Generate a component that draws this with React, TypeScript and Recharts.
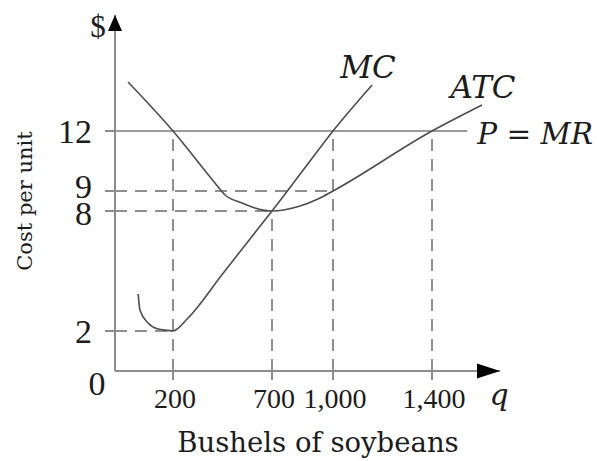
import React from 'react';
import { LineChart, Line, XAxis, YAxis, ReferenceLine, ReferenceDot } from 'recharts';

// ---------- data ----------
const qTicks = [200, 700, 1000, 1400];
const costTicks = [2, 8, 9, 12];
const price = 12;
const qMax = 1680;
const costMax = 17.8;
const priceLineEnd = 1545;

const mcCurve = [
  { q: 80, c: 3.85 },
  { q: 86, c: 3.05 },
  { q: 114, c: 2.4 },
  { q: 148, c: 2.1 },
  { q: 183, c: 2.03 },
  { q: 200, c: 2 },
  { q: 276, c: 2.65 },
  { q: 450, c: 4.85 },
  { q: 580, c: 6.49 },
  { q: 700, c: 8 },
  { q: 850, c: 10 },
  { q: 1000, c: 12 },
  { q: 1158, c: 14.3 },
];

const atcCurve = [
  { q: 45, c: 14.45 },
  { q: 200, c: 12 },
  { q: 412, c: 9.4 },
  { q: 463, c: 8.8 },
  { q: 549, c: 8.4 },
  { q: 614, c: 8.15 },
  { q: 664, c: 8.03 },
  { q: 700, c: 8 },
  { q: 838, c: 8.25 },
  { q: 926, c: 8.6 },
  { q: 1000, c: 9 },
  { q: 1400, c: 12 },
  { q: 1606, c: 13.3 },
];

// vertical drop lines (q, up to cost) and horizontal level lines (cost, out to q)
const dropLines = [
  { q: 200, c: 12 },
  { q: 700, c: 8 },
  { q: 1000, c: 12 },
  { q: 1400, c: 12 },
];
const levelLines = [
  { q: 200, c: 2 },
  { q: 700, c: 8 },
  { q: 1000, c: 9 },
];

// ---------- schematic (piecewise-linear) quantity scale ----------
const SCALE_Q = [0, 200, 700, 1000, 1400, qMax];
const SCALE_T = [0, 58, 157, 218, 317, 385].map((v) => v / 385);

function piecewiseScale(): any {
  let dom: number[] = [0, qMax];
  let rng: number[] = [0, 1];
  const toT = (v: number) => {
    const n = SCALE_Q.length;
    let i = 0;
    while (i < n - 2 && v > SCALE_Q[i + 1]) i++;
    const q0 = SCALE_Q[i];
    const q1 = SCALE_Q[i + 1];
    return SCALE_T[i] + ((v - q0) / (q1 - q0)) * (SCALE_T[i + 1] - SCALE_T[i]);
  };
  const fromT = (t: number) => {
    const n = SCALE_T.length;
    let i = 0;
    while (i < n - 2 && t > SCALE_T[i + 1]) i++;
    const t0 = SCALE_T[i];
    const t1 = SCALE_T[i + 1];
    return SCALE_Q[i] + ((t - t0) / (t1 - t0)) * (SCALE_Q[i + 1] - SCALE_Q[i]);
  };
  const s: any = (v: any) => {
    const x = Number(v);
    if (!Number.isFinite(x)) return undefined;
    return rng[0] + toT(x) * (rng[1] - rng[0]);
  };
  s.domain = (d?: any) => {
    if (d === undefined) return dom.slice();
    dom = Array.from(d as any[]).map(Number);
    return s;
  };
  s.range = (r?: any) => {
    if (r === undefined) return rng.slice();
    rng = Array.from(r as any[]).map(Number);
    return s;
  };
  s.invert = (px: number) => fromT((px - rng[0]) / (rng[1] - rng[0]));
  s.copy = () => {
    const c = piecewiseScale();
    c.domain(dom);
    c.range(rng);
    return c;
  };
  s.ticks = () => qTicks.slice();
  s.tickFormat = () => (v: any) => String(v);
  s.nice = () => s;
  s.clamp = () => s;
  return s;
}
const xScale = piecewiseScale();

// ---------- styles ----------
const INK = '#1c1c1c';
const AXIS = '#8c8c8c';
const CURVE = '#4d4d4d';
const DASH = '#8f8f8f';
const DIGITS = "'Liberation Serif', serif";
const WORDS = "'DejaVu Serif', serif";

const yLabelNudge: Record<number, number> = { 9: -5, 8: 2 };

const YTick = (props: any) => {
  const { x, y, payload } = props;
  const v = payload.value;
  return (
    <text x={x} y={y + 11.5 + (yLabelNudge[v] || 0)} textAnchor="end" fontFamily={DIGITS} fontSize={34} fill={INK}>
      {v}
    </text>
  );
};

const XTick = (props: any) => {
  const { x, y, payload } = props;
  return (
    <text x={x + 2} y={y + 26} textAnchor="middle" fontFamily={DIGITS} fontSize={28} fill={INK}>
      {Number(payload.value).toLocaleString('en-US')}
    </text>
  );
};

const textShape =
  (text: string, dx: number, dy: number, opts: any = {}) =>
  (props: any) => {
    const { rotate, ...rest } = opts;
    const tx = props.cx + dx;
    const ty = props.cy + dy;
    return (
      <text
        x={tx}
        y={ty}
        fill={INK}
        transform={rotate ? `rotate(${rotate} ${tx} ${ty})` : undefined}
        {...rest}
      >
        {text}
      </text>
    );
  };

const YArrow = (props: any) => {
  const { cx, cy } = props;
  return <polygon points={`${cx},${cy} ${cx - 7},${cy + 16} ${cx + 7},${cy + 16}`} fill="#000" />;
};
const XArrow = (props: any) => {
  const { cx, cy } = props;
  return <polygon points={`${cx},${cy} ${cx - 23},${cy - 7.5} ${cx - 23},${cy + 7.5}`} fill="#000" />;
};

const mcEnd = mcCurve[mcCurve.length - 1];
const atcEnd = atcCurve[atcCurve.length - 1];

export default function App() {
  return (
    <div style={{ position: 'absolute', left: 0, top: 0, width: 597, height: 461, background: '#fff' }}>
      <LineChart width={597} height={461} margin={{ top: 15, right: 97, bottom: 0, left: 0 }}>
        <XAxis
          dataKey="q"
          type="number"
          scale={xScale}
          domain={[0, qMax]}
          ticks={qTicks}
          interval={0}
          height={90}
          tickSize={9}
          tickMargin={2}
          axisLine={{ stroke: AXIS, strokeWidth: 2 }}
          tickLine={{ stroke: AXIS, strokeWidth: 2 }}
          tick={<XTick />}
          allowDataOverflow
        />
        <YAxis
          dataKey="c"
          type="number"
          domain={[0, costMax]}
          ticks={costTicks}
          interval={0}
          width={115}
          tickSize={10}
          tickMargin={13}
          axisLine={{ stroke: AXIS, strokeWidth: 2 }}
          tickLine={{ stroke: AXIS, strokeWidth: 2 }}
          tick={<YTick />}
          allowDataOverflow
        />

        {dropLines.map((d) => (
          <ReferenceLine
            key={`v${d.q}`}
            segment={[
              { x: d.q, y: 0 },
              { x: d.q, y: d.c },
            ]}
            stroke={DASH}
            strokeWidth={2}
            strokeDasharray="12 8"
            ifOverflow="visible"
          />
        ))}
        {levelLines.map((d) => (
          <ReferenceLine
            key={`h${d.c}`}
            segment={[
              { x: 0, y: d.c },
              { x: d.q, y: d.c },
            ]}
            stroke={DASH}
            strokeWidth={2}
            strokeDasharray="12 8"
            ifOverflow="visible"
          />
        ))}
        <ReferenceLine
          segment={[
            { x: 0, y: price },
            { x: priceLineEnd, y: price },
          ]}
          stroke="#7a7a7a"
          strokeWidth={1.6}
          ifOverflow="visible"
        />

        <Line
          data={mcCurve}
          dataKey="c"
          type="monotone"
          stroke={CURVE}
          strokeWidth={1.6}
          dot={false}
          isAnimationActive={false}
        />
        <Line
          data={atcCurve}
          dataKey="c"
          type="monotone"
          stroke={CURVE}
          strokeWidth={1.6}
          dot={false}
          isAnimationActive={false}
        />

        <ReferenceDot x={0} y={costMax} r={0} shape={YArrow} ifOverflow="visible" />
        <ReferenceDot x={qMax} y={0} r={0} shape={XArrow} ifOverflow="visible" />

        <ReferenceDot
          x={0}
          y={costMax}
          r={0}
          ifOverflow="visible"
          shape={textShape('$', -17, 22, { textAnchor: 'middle', fontFamily: DIGITS, fontSize: 31 })}
        />
        <ReferenceDot
          x={0}
          y={0}
          r={0}
          ifOverflow="visible"
          shape={textShape('0', -18, 24, { textAnchor: 'middle', fontFamily: DIGITS, fontSize: 34 })}
        />
        <ReferenceDot
          x={qMax}
          y={0}
          r={0}
          ifOverflow="visible"
          shape={textShape('q', -1, 34, { textAnchor: 'middle', fontFamily: WORDS, fontSize: 30, fontStyle: 'italic' })}
        />
        <ReferenceDot
          x={0}
          y={0}
          r={0}
          ifOverflow="visible"
          shape={textShape('Bushels of soybeans', 203, 81, { textAnchor: 'middle', fontFamily: WORDS, fontSize: 27.5 })}
        />
        <ReferenceDot
          x={0}
          y={0}
          r={0}
          ifOverflow="visible"
          shape={textShape('Cost per unit', -83, -170, {
            textAnchor: 'middle',
            fontFamily: WORDS,
            fontSize: 21,
            rotate: -90,
          })}
        />
        <ReferenceDot
          x={mcEnd.q}
          y={mcEnd.c}
          r={0}
          ifOverflow="visible"
          shape={textShape('MC', -4, -7, { textAnchor: 'middle', fontFamily: WORDS, fontSize: 31, fontStyle: 'italic' })}
        />
        <ReferenceDot
          x={atcEnd.q}
          y={atcEnd.c}
          r={0}
          ifOverflow="visible"
          shape={textShape('ATC', 1, -7, { textAnchor: 'middle', fontFamily: WORDS, fontSize: 31, fontStyle: 'italic' })}
        />
        <ReferenceDot
          x={priceLineEnd}
          y={price}
          r={0}
          ifOverflow="visible"
          shape={textShape('P = MR', 10, 13, { textAnchor: 'start', fontFamily: WORDS, fontSize: 29.5, fontStyle: 'italic' })}
        />
      </LineChart>
    </div>
  );
}
